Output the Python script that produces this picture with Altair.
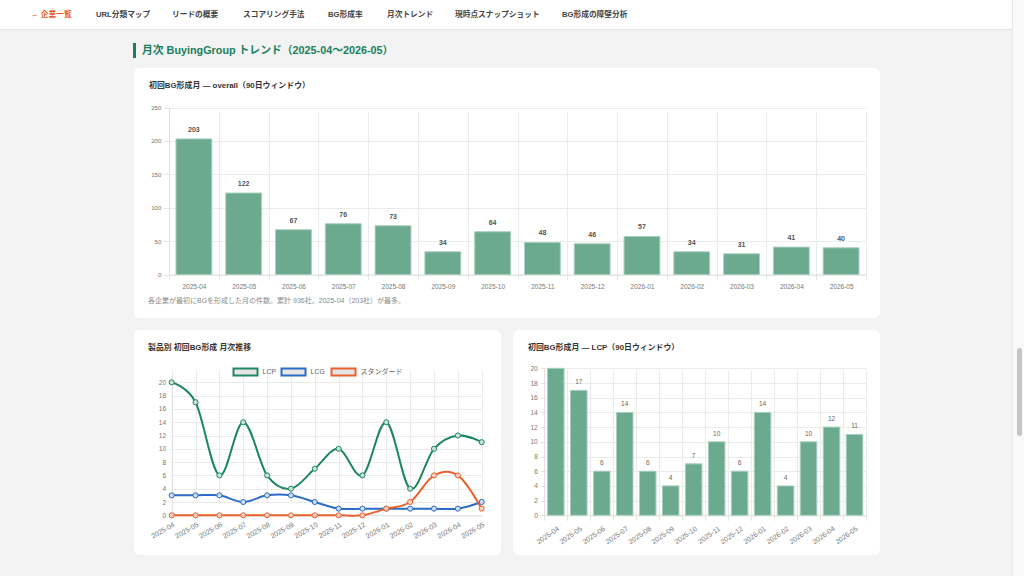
import altair as alt
import pandas as pd

# ---------------- data ----------------
months = ["2025-04", "2025-05", "2025-06", "2025-07", "2025-08", "2025-09", "2025-10",
          "2025-11", "2025-12", "2026-01", "2026-02", "2026-03", "2026-04", "2026-05"]
overall = [203, 122, 67, 76, 73, 34, 64, 48, 46, 57, 34, 31, 41, 40]
lcp = [20, 17, 6, 14, 6, 4, 7, 10, 6, 14, 4, 10, 12, 11]
lcg = [3, 3, 3, 2, 3, 3, 2, 1, 1, 1, 1, 1, 1, 2]
std = [0, 0, 0, 0, 0, 0, 0, 0, 0, 1, 2, 6, 6, 1]
series_names = ["LCP", "LCG", "スタンダード"]
nav_items = ["← 企業一覧", "URL分類マップ", "リードの概要", "スコアリング手法", "BG形成率",
             "月次トレンド", "現時点スナップショット", "BG形成の障壁分析"]
page_title = "月次 BuyingGroup トレンド（2025-04〜2026-05）"
top_title = "初回BG形成月 — overall（90日ウィンドウ）"
top_caption = "各企業が最初にBGを形成した月の件数。累計 936社。2025-04（203社）が最多。"
line_title = "製品別 初回BG形成 月次推移"
lcp_title = "初回BG形成月 — LCP（90日ウィンドウ）"

# ---------------- styles / layout ----------------
FONT = "Liberation Sans, Noto Sans CJK JP, sans-serif"
PAGE_BG = "#f3f3f3"
BAR_FILL = "#6caa8f"
BAR_STROKE = "#a9d0bf"
GREEN = "#1a7f5a"
series_colors = ["#1f8760", "#2b6cc6", "#e9622e"]
series_fills = ["#c9e3d6", "#cfdcf2", "#f8d3c4"]
nav_x = [31, 96, 172, 243, 328, 387, 455, 562]
GRID = "#ebebeb"
LBL = "#777777"
CARD_VIEW = alt.ViewBackground(fill="#ffffff", cornerRadius=6, strokeWidth=0)
NO_VIEW = alt.ViewBackground(strokeWidth=0)


def blank():
    return alt.Chart(alt.Data(values=[{"a": 1}]))


def text_layer(s, x, y, size=8, color="#333333", weight="normal", align="left"):
    return blank().mark_text(text=s, align=align, baseline="middle", fontSize=size,
                             color=color, fontWeight=weight, font=FONT).encode(
        x=alt.value(x), y=alt.value(y))


def rect_layer(x1, x2, y1, y2, fill, radius=0, stroke=None, sw=0, opacity=1):
    kw = dict(fill=fill, cornerRadius=radius, opacity=opacity)
    if stroke is not None:
        kw["stroke"] = stroke
        kw["strokeWidth"] = sw
    return blank().mark_rect(**kw).encode(
        x=alt.value(x1), x2=alt.value(x2), y=alt.value(y1), y2=alt.value(y2))


def spacer(w, h, track=False, extra=()):
    layers = [rect_layer(0, w, 0, h, PAGE_BG, opacity=0)]
    if track:
        layers += [rect_layer(w - 12, w, 0, h, "#f9f9f9"), rect_layer(w - 12, w - 11, 0, h, "#e9e9e9")]
    layers += list(extra)
    return alt.layer(*layers).properties(width=w, height=h, view=NO_VIEW)


# ---------------- header ----------------
H_HEAD = 68
head_layers = [
    rect_layer(0, 1012, 0, 29, "#ffffff"),
    rect_layer(0, 1012, 29, 30, "#e4e4e4"),
    rect_layer(1012, 1024, 0, H_HEAD, "#f9f9f9"),
    rect_layer(1012, 1013, 0, H_HEAD, "#e9e9e9"),
]
for i, (s, x) in enumerate(zip(nav_items, nav_x)):
    head_layers.append(text_layer(s, x, 14.5, size=7.7,
                                  color="#e8572a" if i == 0 else "#444444", weight="bold"))
head_layers += [
    rect_layer(133, 136, 43, 58, GREEN),
    text_layer(page_title, 142, 51, size=10.8, color=GREEN, weight="bold"),
]
header = alt.layer(*head_layers).properties(width=1024, height=H_HEAD, view=NO_VIEW)

# ---------------- top card: overall bars (view = card 746x250) ----------------
W_TOP, H_TOP = 746, 250
y0_top, y1_top = 206.5, 39.5
df_top = pd.DataFrame({"month": months, "value": overall})
xs_top = alt.Scale(domain=months, range=[35, 732], paddingInner=0, paddingOuter=0)
ys_top = alt.Scale(domain=[0, 250], range=[y0_top, y1_top], nice=False)
base_top = alt.Chart(df_top).encode(
    x=alt.X("month:N", scale=xs_top, sort=months,
            axis=alt.Axis(orient="bottom", offset=y0_top - H_TOP, title=None, labelAngle=0,
                          tickBand="extent", grid=True, gridColor=GRID, tickSize=5,
                          tickColor="#e4e4e4", domainColor="#e0e0e0", labelPadding=4,
                          labelFontSize=6.5, labelColor=LBL, labelFont=FONT)),
    y=alt.Y("value:Q", scale=ys_top,
            axis=alt.Axis(orient="left", offset=-35, title=None, values=[0, 50, 100, 150, 200, 250],
                          grid=True, gridColor=GRID, tickSize=6, tickColor="#e4e4e4",
                          domainColor="#e0e0e0", labelPadding=2, labelFontSize=6.2,
                          labelColor=LBL, labelFont=FONT)),
)
top_bars = base_top.mark_bar(fill=BAR_FILL, stroke=BAR_STROKE, strokeWidth=1,
                             width=alt.RelativeBandSize(0.72))
top_text = base_top.mark_text(dy=-9, fontSize=7, fontWeight="bold", color="#555555",
                              font=FONT).encode(text="value:Q")
top_card = alt.layer(
    text_layer(top_title, 15, 18, size=7.9, color="#333333", weight="bold"),
    text_layer(top_caption, 14, 233, size=7, color="#8a8a8a"),
    top_bars, top_text,
).properties(width=W_TOP, height=H_TOP, view=CARD_VIEW)

top_row = alt.hconcat(spacer(134, H_TOP), top_card, spacer(144, H_TOP, track=True), spacing=0)

# ---------------- bottom-left: line chart (view = card 367x225) ----------------
W_B, H_B = 367, 225
y0_b = 185.3
rows = []
for name, vals in zip(series_names, [lcp, lcg, std]):
    for m, v in zip(months, vals):
        rows.append({"month": m, "series": name, "value": v})
df_line = pd.DataFrame(rows)
xs_line = alt.Scale(type="point", domain=months, range=[37.7, 347.7], padding=0)
ys_line = alt.Scale(domain=[0, 20], range=[y0_b, 52.3], nice=False)
base_line = alt.Chart(df_line).encode(
    x=alt.X("month:N", scale=xs_line, sort=months,
            axis=alt.Axis(orient="bottom", offset=y0_b - H_B, title=None, labelAngle=-30,
                          labelAlign="right", labelBaseline="top", grid=True, gridColor=GRID,
                          ticks=False, domainColor="#e0e0e0", labelPadding=5,
                          labelFontSize=7, labelColor=LBL, labelFont=FONT)),
    y=alt.Y("value:Q", scale=ys_line,
            axis=alt.Axis(orient="left", offset=-37.7, title=None, values=list(range(0, 21, 2)),
                          grid=True, gridColor=GRID, ticks=False, domainColor="#e0e0e0",
                          labelPadding=6, labelFontSize=6.6, labelColor=LBL, labelFont=FONT)),
)
lines = base_line.mark_line(interpolate="cardinal", strokeWidth=2).encode(
    color=alt.Color("series:N", scale=alt.Scale(domain=series_names, range=series_colors), legend=None),
)
points = base_line.mark_circle(size=26, strokeWidth=1, opacity=1).encode(
    fill=alt.Fill("series:N", scale=alt.Scale(domain=series_names, range=series_fills), legend=None),
    stroke=alt.Stroke("series:N", scale=alt.Scale(domain=series_names, range=series_colors), legend=None),
)
legend_layers = []
leg_box_x = [99.5, 147.5, 197.5]
for name, col, bx in zip(series_names, series_colors, leg_box_x):
    legend_layers.append(rect_layer(bx, bx + 24, 38.5, 45.5, "#e6e6e6", stroke=col, sw=2))
    legend_layers.append(text_layer(name, bx + 29, 42, size=7, color="#666666"))
line_card = alt.layer(
    text_layer(line_title, 14, 18, size=7.9, color="#333333", weight="bold"),
    *legend_layers,
    lines, points,
).properties(width=W_B, height=H_B, view=CARD_VIEW)

# ---------------- bottom-right: LCP bars (view = card 367x225) ----------------
df_lcp = pd.DataFrame({"month": months, "value": lcp})
xs_lcp = alt.Scale(domain=months, range=[31.3, 353], paddingInner=0, paddingOuter=0)
ys_lcp = alt.Scale(domain=[0, 20], range=[y0_b, 38.3], nice=False)
base_lcp = alt.Chart(df_lcp).encode(
    x=alt.X("month:N", scale=xs_lcp, sort=months,
            axis=alt.Axis(orient="bottom", offset=y0_b - H_B, title=None, labelAngle=-35,
                          labelAlign="right", labelBaseline="top", tickBand="extent",
                          grid=True, gridColor=GRID, tickSize=5, tickColor="#e4e4e4",
                          domainColor="#e0e0e0", labelPadding=4, labelFontSize=7,
                          labelColor=LBL, labelFont=FONT)),
    y=alt.Y("value:Q", scale=ys_lcp,
            axis=alt.Axis(orient="left", offset=-31.3, title=None, values=list(range(0, 21, 2)),
                          grid=True, gridColor=GRID, tickSize=4, tickColor="#e4e4e4",
                          domainColor="#e0e0e0", labelPadding=3, labelFontSize=6.6,
                          labelColor=LBL, labelFont=FONT)),
)
lcp_bars = base_lcp.mark_bar(fill=BAR_FILL, stroke=BAR_STROKE, strokeWidth=1,
                             width=alt.RelativeBandSize(0.72))
lcp_text = base_lcp.transform_filter("datum.value < 20").mark_text(
    dy=-8, fontSize=6.5, color="#666666", font=FONT).encode(text="value:Q")
lcp_card = alt.layer(
    text_layer(lcp_title, 15, 18, size=7.9, color="#333333", weight="bold"),
    lcp_bars, lcp_text,
).properties(width=W_B, height=H_B, view=CARD_VIEW)

thumb = rect_layer(137, 142, 18, 106, "#c4c4c4", radius=2.5)
bottom_cards = alt.hconcat(spacer(134, H_B), line_card, spacer(12, H_B), lcp_card,
                           spacer(144, H_B, track=True, extra=[thumb]), spacing=0)

chart = alt.vconcat(
    header, top_row, spacer(1024, 12, track=True), bottom_cards, spacer(1024, 21, track=True),
    spacing=0,
).properties(background=PAGE_BG, padding=0).configure_view(strokeWidth=0).configure_concat(spacing=0)

chart.save("out.html", embed_options={"renderer": "svg", "actions": False})
